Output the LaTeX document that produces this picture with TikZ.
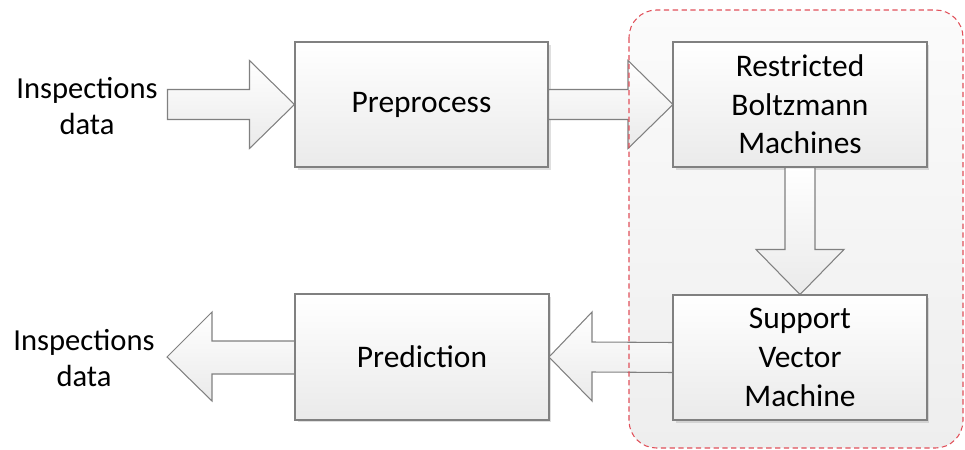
\documentclass[tikz,border=0pt]{standalone}
\usepackage{fontspec}
\setmainfont{Carlito}
\usetikzlibrary{calc,shadows}
\definecolor{bordergray}{RGB}{128,128,128}
\definecolor{shadebot}{RGB}{234,234,234}
\definecolor{dashred}{RGB}{225,80,90}
\definecolor{contop}{RGB}{251,251,251}
\definecolor{conbot}{RGB}{238,238,238}
\begin{document}
\begin{tikzpicture}[x=0.02cm,y=-0.02cm,
  stagebox/.style={draw=bordergray, line width=0.6pt, top color=white, bottom color=shadebot,
    minimum width=5.06cm, minimum height=2.5cm, align=center, inner sep=0pt,
    font=\fontsize{17.9}{22}\selectfont,
    drop shadow={shadow xshift=1.5pt, shadow yshift=-1.5pt, opacity=0.25}},
  fatarrow/.style={draw=bordergray, line width=0.6pt, top color=white, bottom color=shadebot, line join=miter},
  lbl/.style={align=center, inner sep=0pt, font=\fontsize{17.4}{21}\selectfont},
  container/.style={rounded corners=0.55cm}]
\useasboundingbox (0,0) rectangle (965,450);
% container background
\path[container, top color=contop, bottom color=conbot] (629,10) rectangle (963,448);
% nodes
\node[stagebox] (pre) at (421.5,104.5) {Preprocess};
\node[stagebox] (rbm) at (800,104.5) {Restricted\\Boltzmann\\Machines};
\node[stagebox] (svm) at (800,357.5) {Support\\Vector\\Machine};
\node[stagebox] (pred) at (422,357) {Prediction};
\node[lbl] (inlbl) at (87,106) {Inspections\\data};
\node[lbl] (outlbl) at (84,358) {Inspections\\data};
\coordinate (intail) at ($(pre.west)+(-127,0)$);
\coordinate (outtip) at ($(pred.west)+(-128,0)$);
% arrows
\path[fatarrow] (pre.west) -- ($(pre.west)+(-45,-44)$) -- ($(pre.west)+(-45,-15)$)
  -- ($(intail)+(0,-15)$) -- ($(intail)+(0,15)$) -- ($(pre.west)+(-45,15)$)
  -- ($(pre.west)+(-45,44)$) -- cycle;
\path[fatarrow] (rbm.west) -- ($(rbm.west)+(-45,-44)$) -- ($(rbm.west)+(-45,-15)$)
  -- ($(pre.east)+(0,-15)$) -- ($(pre.east)+(0,15)$) -- ($(rbm.west)+(-45,15)$)
  -- ($(rbm.west)+(-45,44)$) -- cycle;
\path[fatarrow] (svm.north) -- ($(svm.north)+(-44,-45)$) -- ($(svm.north)+(-15,-45)$)
  -- ($(rbm.south)+(-15,0)$) -- ($(rbm.south)+(15,0)$) -- ($(svm.north)+(15,-45)$)
  -- ($(svm.north)+(44,-45)$) -- cycle;
\path[fatarrow] (pred.east) -- ($(pred.east)+(43,-45)$) -- ($(pred.east)+(43,-15)$)
  -- ($(svm.west)+(0,-15)$) -- ($(svm.west)+(0,15)$) -- ($(pred.east)+(43,15)$)
  -- ($(pred.east)+(43,44)$) -- cycle;
\path[fatarrow] (outtip) -- ($(outtip)+(45,-45)$) -- ($(outtip)+(45,-16)$)
  -- ($(pred.west)+(0,-16)$) -- ($(pred.west)+(0,17)$) -- ($(outtip)+(45,17)$)
  -- ($(outtip)+(45,44)$) -- cycle;
% redraw box borders over arrow joins
\foreach \n in {pre,rbm,svm,pred} \draw[bordergray, line width=0.6pt] (\n.north west) rectangle (\n.south east);
% container outline
\draw[container, dashred, line width=0.6pt, dash pattern=on 3pt off 2pt] (629,10) rectangle (963,448);
\end{tikzpicture}
\end{document}
